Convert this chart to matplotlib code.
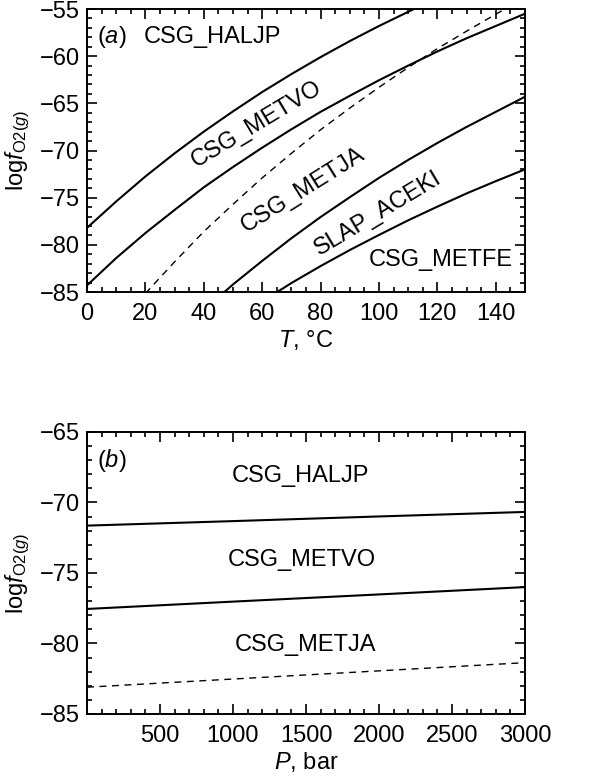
import numpy as np
import matplotlib
matplotlib.use('Agg')
import matplotlib.pyplot as plt
from matplotlib.ticker import MultipleLocator

plt.rcParams['font.family'] = ['Liberation Sans', 'DejaVu Sans']
plt.rcParams['mathtext.fontset'] = 'custom'
plt.rcParams['mathtext.rm'] = 'Liberation Sans'
plt.rcParams['mathtext.it'] = 'Liberation Sans:italic'
plt.rcParams['mathtext.default'] = 'it'

# (a) boundaries vs temperature (deg C), log fO2
t_haljp_metvo = [0, 10, 20, 30, 40, 50, 60, 70, 80, 90, 100, 110, 120]
f_haljp_metvo = [-78.2, -75.4, -72.75, -70.3, -68.0, -65.85, -63.8, -61.9,
                 -60.1, -58.4, -56.8, -55.3, -53.8]

t_metvo_metja = [0, 10, 20, 30, 40, 50, 60, 70, 80, 90, 100, 110, 120, 130, 140, 150]
f_metvo_metja = [-84.3, -81.4, -78.75, -76.3, -73.9, -71.75, -69.7, -67.75,
                 -65.9, -64.2, -62.55, -61.0, -59.5, -58.1, -56.8, -55.5]

t_metja_aceki = [40, 50, 60, 70, 80, 90, 100, 110, 120, 130, 140, 150]
f_metja_aceki = [-86.9, -84.2, -81.7, -79.3, -77.05, -74.95, -72.9, -71.0,
                 -69.2, -67.5, -65.9, -64.3]

t_aceki_metfe = [60, 70, 80, 90, 100, 110, 120, 130, 140, 150]
f_aceki_metfe = [-86.0, -84.05, -82.25, -80.55, -78.95, -77.4, -75.95, -74.55,
                 -73.25, -72.0]

t_dashed = [20, 30, 40, 50, 60, 70, 80, 90, 100, 110, 120, 130, 140, 150]
f_dashed = [-85.15, -81.8, -78.6, -75.7, -72.9, -70.3, -67.8, -65.5, -63.3,
            -61.2, -59.2, -57.35, -55.55, -53.8]

# (b) boundaries vs pressure (bar)
p_bar = [0, 1000, 2000, 3000]
f_haljp_metvo_p = [-71.64, -71.32, -70.99, -70.67]
f_metvo_metja_p = [-77.55, -77.03, -76.52, -76.0]
f_dashed_p = [-83.1, -82.52, -81.94, -81.36]

fs = 17


def style_axes(ax):
    ax.tick_params(which='both', direction='in', top=True, right=True,
                   labelsize=fs, width=1.2)
    ax.tick_params(which='major', length=7)
    ax.tick_params(which='minor', length=3.5)
    ax.tick_params(axis='x', pad=8)
    ax.tick_params(axis='y', pad=5)
    for s in ax.spines.values():
        s.set_linewidth(1.4)


fig = plt.figure(figsize=(6.0, 7.76), dpi=100)
ax1 = fig.add_axes([0.145, 0.6237, 0.73, 0.3647])
ax2 = fig.add_axes([0.145, 0.0799, 0.73, 0.3634])

# Panel (a)
solid = dict(color='black', lw=1.5)
ax1.plot(t_haljp_metvo, f_haljp_metvo, **solid)
ax1.plot(t_metvo_metja, f_metvo_metja, **solid)
ax1.plot(t_metja_aceki, f_metja_aceki, **solid)
ax1.plot(t_aceki_metfe, f_aceki_metfe, **solid)
ax1.plot(t_dashed, f_dashed, color='black', lw=1.0, ls=(0, (5, 4)))
ax1.set_xlim(0, 150)
ax1.set_ylim(-85, -55)
ax1.xaxis.set_major_locator(MultipleLocator(20))
ax1.xaxis.set_minor_locator(MultipleLocator(5))
ax1.yaxis.set_major_locator(MultipleLocator(5))
ax1.yaxis.set_minor_locator(MultipleLocator(1))
style_axes(ax1)
ax1.set_xlabel(r'$T$, °C', fontsize=fs, labelpad=2)
ax1.set_ylabel(r'$\mathrm{log}f_{\mathrm{O2}(g)}$', fontsize=fs, labelpad=6)

ax1.text(3.4, -58.0, r'($a$)', fontsize=fs, ha='left', va='center')
ax1.text(19.5, -58.0, 'CSG_HALJP', fontsize=fs, ha='left', va='center')
ax1.text(58.2, -67.2, 'CSG_METVO', fontsize=fs, ha='center', va='center', rotation=31)
ax1.text(74.0, -74.2, 'CSG_METJA', fontsize=fs, ha='center', va='center', rotation=32)
ax1.text(99.7, -76.7, 'SLAP_ACEKI', fontsize=fs, ha='center', va='center', rotation=31)
ax1.text(121.2, -81.6, 'CSG_METFE', fontsize=fs, ha='center', va='center')

# Panel (b)
ax2.plot(p_bar, f_haljp_metvo_p, **solid)
ax2.plot(p_bar, f_metvo_metja_p, **solid)
ax2.plot(p_bar, f_dashed_p, color='black', lw=1.0, ls=(0, (5, 4)))
ax2.set_xlim(0, 3000)
ax2.set_ylim(-85, -65)
ax2.set_xticks([500, 1000, 1500, 2000, 2500, 3000])
ax2.xaxis.set_minor_locator(MultipleLocator(100))
ax2.yaxis.set_major_locator(MultipleLocator(5))
ax2.yaxis.set_minor_locator(MultipleLocator(1))
style_axes(ax2)
ax2.set_xlabel(r'$P$, bar', fontsize=fs, labelpad=2)
ax2.set_ylabel(r'$\mathrm{log}f_{\mathrm{O2}(g)}$', fontsize=fs, labelpad=6)

ax2.text(68, -67.0, r'($b$)', fontsize=fs, ha='left', va='center')
ax2.text(1459, -68.1, 'CSG_HALJP', fontsize=fs, ha='center', va='center')
ax2.text(1470, -74.1, 'CSG_METVO', fontsize=fs, ha='center', va='center')
ax2.text(1495, -80.1, 'CSG_METJA', fontsize=fs, ha='center', va='center')

fig.savefig('out.png', dpi=100)
